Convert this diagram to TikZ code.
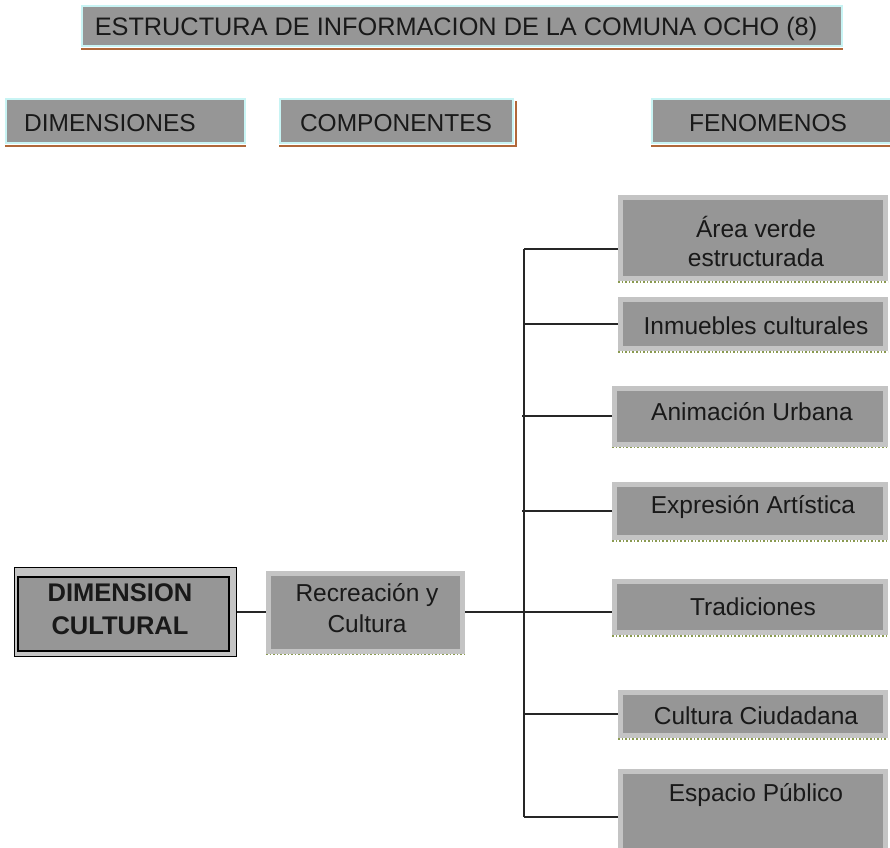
\documentclass[tikz,border=0pt]{standalone}
\usepackage{fontspec}
\setmainfont{Liberation Sans}
\definecolor{boxgray}{HTML}{969696}
\definecolor{framegray}{HTML}{C4C4C4}
\definecolor{edgecyan}{HTML}{C8F4F4}
\definecolor{shadowbrown}{HTML}{B0683A}
\definecolor{dotolive}{HTML}{8A9A50}
\tikzset{
  fen/.style={draw=framegray, line width=5pt, fill=boxgray, inner sep=0pt},
  head/.style={draw=edgecyan, line width=1.2pt, fill=boxgray, inner sep=0pt},
  txt/.style={font=\fontsize{24.5}{29}\selectfont, text=black!90, align=center, inner sep=0pt},
  dotline/.style={draw=dotolive, line width=1.6pt, dotted},
  conn/.style={draw=black!85, line width=2pt},
  shadowline/.style={draw=shadowbrown, line width=2.2pt},
}
\begin{document}
\begin{tikzpicture}[x=1pt,y=-1pt]
\useasboundingbox (0,0) rectangle (890,847);
% title
\node[head, minimum width=760, minimum height=40] (title) at (462,26) {};
\draw[shadowline] ([yshift=-2pt]title.south west) -- ([yshift=-2pt]title.south east);
\node[txt, font=\fontsize{25.3}{29}\selectfont] (ttitle) at (456,29) {ESTRUCTURA DE INFORMACION DE LA COMUNA OCHO (8)};
% headers
\node[head, minimum width=239, minimum height=44] (hdim) at (125.5,121) {};
\node[head, minimum width=233, minimum height=44] (hcomp) at (396.5,121) {};
\node[head, minimum width=240, minimum height=44] (hfen) at (772,121) {};
\draw[shadowline] ([yshift=-2pt]hdim.south west) -- ([yshift=-2pt]hdim.south east);
\draw[shadowline] ([yshift=-2pt]hcomp.south west) -- ([xshift=2pt,yshift=-2pt]hcomp.south east) -- ([xshift=2pt,yshift=-3pt]hcomp.north east);
\draw[shadowline] ([yshift=-2pt]hfen.south west) -- ([yshift=-2pt]hfen.south east);
\node[txt] (tdim) at (110,123) {DIMENSIONES};
\node[txt] (tcomp) at (396,123) {COMPONENTES};
\node[txt] (tfen) at (768,123) {FENOMENOS};
% dimension cultural
\node[draw=black, line width=1pt, fill=framegray, minimum width=222, minimum height=89, inner sep=0pt] (dim) at (125,612) {};
\node[draw=black, line width=2pt, fill=boxgray, minimum width=211, minimum height=74, inner sep=0pt] (diminner) at (123.5,614) {};
\node[txt, font=\bfseries\fontsize{25.5}{33}\selectfont] (tdimc) at (120,609) {DIMENSION\\CULTURAL};
% recreacion
\node[fen, minimum width=194, minimum height=78] (rec) at (365.5,612) {};
\draw[dotline] ([yshift=-1pt]rec.south west) -- ([yshift=-1pt]rec.south east);
\node[txt, font=\fontsize{24.5}{31}\selectfont] (trec) at (367,608) {Recreación y\\Cultura};
% fenomenos
\node[fen, minimum width=265, minimum height=81] (area) at (753,238) {};
\node[fen, minimum width=265, minimum height=49] (inm) at (753,324) {};
\node[fen, minimum width=271, minimum height=56] (anim) at (750,416) {};
\node[fen, minimum width=271, minimum height=53] (expr) at (750,511) {};
\node[fen, minimum width=271, minimum height=51] (trad) at (750,607) {};
\node[fen, minimum width=265, minimum height=43] (cult) at (753,714) {};
\node[fen, minimum width=265, minimum height=106] (esp) at (753,824.5) {};
\foreach \n in {area,inm,anim,expr,trad,cult}
  \draw[dotline] ([yshift=-1pt]\n.south west) -- ([yshift=-1pt]\n.south east);
\node[txt] (tarea) at (756,241.5) {Área verde\\estructurada};
\node[txt] (tinm) at (756,326) {Inmuebles culturales};
\node[txt] (tanim) at (752,412) {Animación Urbana};
\node[txt] (texpr) at (753,507) {Expresión Artística};
\node[txt] (ttrad) at (753,607) {Tradiciones};
\node[txt] (tcult) at (756,716) {Cultura Ciudadana};
\node[txt] (tesp) at (756,795) {Espacio Público};
% connectors
\coordinate (trtop) at (524,249);
\coordinate (trbot) at (524,817);
\draw[conn] (trtop) -- (trbot);
\draw[conn] (trtop) -- (trtop -| area.west);
\draw[conn] (inm.west) -- (inm.west -| trtop);
\draw[conn] (anim.west) -- ([xshift=-2pt]anim.west -| trtop);
\draw[conn] (expr.west) -- ([xshift=-2pt]expr.west -| trtop);
\draw[conn] (cult.west) -- (cult.west -| trtop);
\draw[conn] (trbot) -- (trbot -| esp.west);
\draw[conn] (dim.east) -- (dim.east -| rec.west);
\draw[conn] (rec.east) -- (rec.east -| trad.west);
\end{tikzpicture}
\end{document}
